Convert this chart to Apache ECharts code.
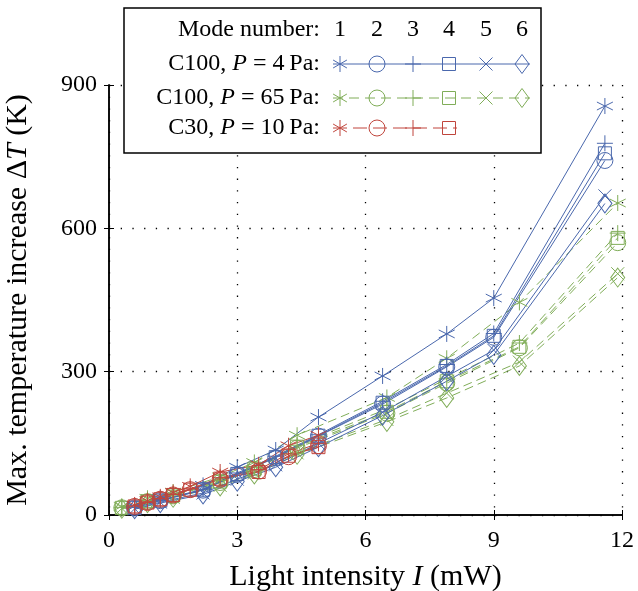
<!DOCTYPE html>
<html>
<head>
<meta charset="utf-8">
<script src="https://cdn.jsdelivr.net/npm/echarts@6/dist/echarts.min.js"></script>
<style>html,body{margin:0;padding:0;background:#fff}#c{width:638px;height:591px}</style>
</head>
<body>
<div id="c"></div>
<script>
// ---- data ----
const xTicks = [0, 3, 6, 9, 12];
const yTicks = [0, 300, 600, 900];
const modeNumbers = ['1', '2', '3', '4', '5', '6'];
const groupLabels = ['C100, {i|P} = 4\u2009Pa:', 'C100, {i|P} = 65\u2009Pa:', 'C30, {i|P} = 10\u2009Pa:'];

const xBlue  = [0.6, 1.2, 2.2, 3.0, 3.9, 4.9, 6.4, 7.9, 9.0, 11.6];
const blueM1 = [18, 35, 62, 100, 136, 205, 291, 379, 454, 856];
const blueM2 = [15, 30, 52, 85, 120, 165, 232, 310, 372, 742];
const blueM3 = [16, 31, 54, 88, 123, 168, 238, 315, 380, 778];
const blueM4 = [15, 30, 53, 86, 121, 166, 235, 312, 375, 757];
const blueM5 = [13, 27, 46, 75, 105, 150, 215, 290, 345, 668];
const blueM6 = [12, 25, 43, 70, 100, 142, 208, 280, 335, 652];

const xGreen  = [0.3, 0.9, 1.5, 2.6, 3.4, 4.4, 6.5, 7.9, 9.6, 11.9];
const greenM1 = [18, 35, 48, 80, 110, 167, 246, 328, 445, 653];
const greenM2 = [15, 28, 40, 68, 95, 140, 213, 276, 350, 570];
const greenM3 = [16, 30, 42, 72, 100, 146, 222, 285, 360, 590];
const greenM4 = [15, 29, 41, 70, 97, 143, 216, 280, 352, 580];
const greenM5 = [14, 26, 37, 62, 88, 130, 200, 255, 320, 505];
const greenM6 = [13, 25, 36, 60, 85, 126, 195, 245, 312, 497];

const xRed  = [0.6, 0.9, 1.2, 1.5, 1.9, 2.6, 3.5, 4.2, 4.9];
const redM1 = [21, 30, 38, 47, 60, 90, 105, 145, 167];
const redM2 = [18, 26, 33, 42, 53, 75, 92, 122, 145];
const redM3 = [19, 27, 34, 43, 55, 78, 95, 128, 150];
const redM4 = [18, 26, 33, 42, 53, 76, 90, 124, 142];

// ---- styles ----
const BLUE = '#4a68ad', GREEN = '#80ad58', RED = '#c0453c';
const FONT = '"Liberation Serif", "DejaVu Serif", serif';
const SYMS = {
  asterisk: 'path://M5,0L5,10M0.67,2.5L9.33,7.5M0.67,7.5L9.33,2.5',
  circle: 'circle',
  plus: 'path://M5,0L5,10M0,5L10,5',
  square: 'rect',
  cross: 'path://M0,0L10,10M0,10L10,0',
  diamond: 'diamond'
};
const KINDS = ['asterisk', 'circle', 'plus', 'square', 'cross', 'diamond'];
const SIZES = {asterisk: 16, circle: 16, plus: 16, square: 13, cross: 13, diamond: [14, 19]};

function mk(xs, ys, kindIdx, color, dashed) {
  const kind = KINDS[kindIdx];
  return {
    type: 'line',
    data: xs.map((x, i) => [x, ys[i]]),
    symbol: SYMS[kind],
    symbolSize: SIZES[kind],
    symbolKeepAspect: false,
    showAllSymbol: true,
    lineStyle: {color: color, width: 1, type: dashed ? [9, 5] : 'solid'},
    itemStyle: {color: 'rgba(0,0,0,0)', borderColor: color, borderWidth: 1},
    emphasis: {disabled: true},
    animation: false
  };
}

const series = [];
[greenM1, greenM2, greenM3, greenM4, greenM5, greenM6].forEach((d, i) => series.push(mk(xGreen, d, i, GREEN, true)));
[blueM1, blueM2, blueM3, blueM4, blueM5, blueM6].forEach((d, i) => series.push(mk(xBlue, d, i, BLUE, false)));
[redM1, redM2, redM3, redM4].forEach((d, i) => series.push(mk(xRed, d, i, RED, false)));

// ---- legend (graphic) ----
const LX = [340, 377, 413, 449, 486, 522];
const LY = [64, 98, 128];
const LFS = 24;
function lgMarker(kind, cx, cy, color) {
  const st = {stroke: color, fill: 'none', lineWidth: 1};
  if (kind === 'circle') return {type: 'circle', shape: {cx, cy, r: 8}, style: st, z: 101};
  if (kind === 'square') return {type: 'rect', shape: {x: cx - 6.5, y: cy - 6.5, width: 13, height: 13}, style: st, z: 101};
  if (kind === 'diamond') return {type: 'polygon', shape: {points: [[cx, cy - 9.5], [cx + 7, cy], [cx, cy + 9.5], [cx - 7, cy]]}, style: st, z: 101};
  let segs;
  if (kind === 'plus') segs = [[0, -8, 0, 8], [-8, 0, 8, 0]];
  else if (kind === 'cross') segs = [[-6.5, -6.5, 6.5, 6.5], [-6.5, 6.5, 6.5, -6.5]];
  else segs = [[0, -8, 0, 8], [-6.9, -4, 6.9, 4], [-6.9, 4, 6.9, -4]];
  return {type: 'group', z: 101, children: segs.map(s => ({type: 'line', shape: {x1: cx + s[0], y1: cy + s[1], x2: cx + s[2], y2: cy + s[3]}, style: {stroke: color, lineWidth: 1}, z: 101}))};
}
const legendEls = [];
legendEls.push({type: 'rect', shape: {x: 124, y: 8, width: 417, height: 145}, style: {fill: '#fff', stroke: '#000', lineWidth: 1.5}, z: 100});
legendEls.push({type: 'text', x: 320, y: 30, style: {text: 'Mode number:', font: LFS + 'px ' + FONT, fill: '#000', align: 'right', verticalAlign: 'middle'}, z: 101});
modeNumbers.forEach((m, i) => legendEls.push({type: 'text', x: LX[i], y: 30, style: {text: m, font: LFS + 'px ' + FONT, fill: '#000', align: 'center', verticalAlign: 'middle'}, z: 101}));
const rowColors = [BLUE, GREEN, RED];
const rowCounts = [6, 6, 4];
groupLabels.forEach((t, r) => {
  legendEls.push({type: 'text', x: 320, y: LY[r], style: {text: t, rich: {i: {fontStyle: 'italic', font: 'italic ' + LFS + 'px ' + FONT}}, font: LFS + 'px ' + FONT, fill: '#000', align: 'right', verticalAlign: 'middle'}, z: 101});
  const x2 = LX[rowCounts[r] - 1] + 8;
  legendEls.push({type: 'line', shape: {x1: 333, y1: LY[r], x2: x2, y2: LY[r]}, style: {stroke: rowColors[r], lineWidth: 1, lineDash: r === 1 ? [10, 6] : (r === 2 ? [14, 6] : null)}, z: 101});
  for (let k = 0; k < rowCounts[r]; k++) legendEls.push(lgMarker(KINDS[k], LX[k], LY[r], rowColors[r]));
});

const axisCommon = {
  type: 'value',
  axisLine: {show: true, lineStyle: {color: '#000', width: 1.5}},
  axisTick: {show: true, inside: true, length: 5, lineStyle: {color: '#000', width: 1}},
  splitLine: {show: false}
};
const TFS = 30;

const chart = echarts.init(document.getElementById('c'), null, {renderer: 'canvas'});
chart.setOption({
  backgroundColor: '#fff',
  animation: false,
  grid: {left: 109, right: 16, top: 85, bottom: 76, containLabel: false, outerBoundsMode: 'none'},
  xAxis: [
    Object.assign({}, axisCommon, {
      min: 0, max: 12, interval: 3, position: 'bottom',
      name: 'Light intensity {i|I} (mW)', nameLocation: 'middle', nameGap: 47,
      nameTextStyle: {fontFamily: FONT, fontSize: TFS, color: '#000', rich: {i: {fontStyle: 'italic', fontFamily: FONT, fontSize: TFS}}},
      axisLabel: {fontFamily: FONT, fontSize: 24, color: '#000', margin: 14, formatter: v => xTicks.includes(v) ? String(v) : ''},
      splitLine: {show: true, lineStyle: {color: '#000', width: 1.3, type: [1.3, 10.4]}}
    }),
    Object.assign({}, axisCommon, {min: 0, max: 12, interval: 3, position: 'top', axisLabel: {show: false}})
  ],
  yAxis: [
    Object.assign({}, axisCommon, {
      min: 0, max: 900, interval: 300, position: 'left',
      name: 'Max. temperature increase \u0394{i|T} (K)', nameLocation: 'middle', nameGap: 76, nameRotate: 90,
      nameTextStyle: {fontFamily: FONT, fontSize: TFS, color: '#000', rich: {i: {fontStyle: 'italic', fontFamily: FONT, fontSize: TFS}}},
      axisLabel: {fontFamily: FONT, fontSize: 24, color: '#000', margin: 12, formatter: v => yTicks.includes(v) ? String(v) : ''},
      splitLine: {show: true, lineStyle: {color: '#000', width: 1.3, type: [1.3, 10.4]}}
    }),
    Object.assign({}, axisCommon, {min: 0, max: 900, interval: 300, position: 'right', axisLabel: {show: false}})
  ],
  series: series,
  graphic: legendEls
});
</script>
</body>
</html>
